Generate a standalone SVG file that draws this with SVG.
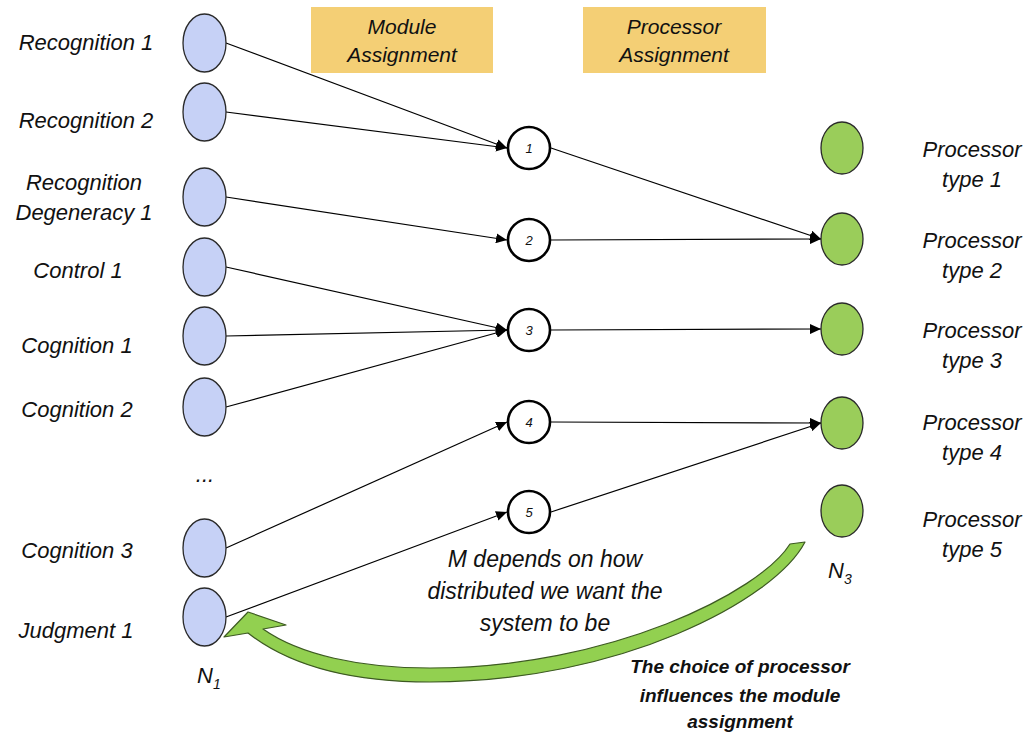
<svg xmlns="http://www.w3.org/2000/svg" width="1031" height="737" viewBox="0 0 1031 737">
<defs>
<style>
text{font-family:"Liberation Sans",Arial,sans-serif;font-style:italic;fill:#111}
.lbl{font-size:22px;text-anchor:middle}
.box{fill:#F4CF75}
.boxt{font-size:21px;text-anchor:middle}
.n1{fill:#C6D1F6;stroke:#2a2a2a;stroke-width:1.3}
.n2{fill:#ffffff;stroke:#000;stroke-width:2.6}
.n3{fill:#9ACD5A;stroke:#2a2a2a;stroke-width:1.3}
.num{font-size:13px;text-anchor:middle}
.mid{font-size:23px;text-anchor:middle}
.bold{font-size:19px;font-weight:bold;text-anchor:middle}
.conn line{stroke:#000;stroke-width:1.2;marker-end:url(#ah)}
</style>
<marker id="ah" markerUnits="userSpaceOnUse" markerWidth="12" markerHeight="10" refX="11" refY="5" orient="auto">
<path d="M0,0 L11,5 L0,10 Z" fill="#000"/>
</marker>
</defs>
<rect width="1031" height="737" fill="#fff"/>

<g id="header-module">
<rect class="box" x="311" y="7" width="182" height="66"/>
<text class="boxt" x="402" y="34">Module</text>
<text class="boxt" x="402" y="62">Assignment</text>
</g>
<g id="header-processor">
<rect class="box" x="583" y="7" width="183" height="66"/>
<text class="boxt" x="674" y="34">Processor</text>
<text class="boxt" x="674" y="62">Assignment</text>
</g>

<g class="conn" id="connectors">
<line x1="226" y1="43" x2="507" y2="148"/>
<line x1="226" y1="112" x2="507" y2="148"/>
<line x1="226" y1="197" x2="507" y2="240"/>
<line x1="226" y1="267" x2="507" y2="330"/>
<line x1="226" y1="336" x2="507" y2="330"/>
<line x1="226" y1="407" x2="507" y2="330"/>
<line x1="226" y1="548" x2="507" y2="422"/>
<line x1="226" y1="617" x2="507" y2="512"/>
<line x1="551" y1="148" x2="821" y2="239"/>
<line x1="551" y1="240" x2="821" y2="239"/>
<line x1="551" y1="330" x2="821" y2="329"/>
<line x1="551" y1="422" x2="821" y2="423"/>
<line x1="551" y1="512" x2="821" y2="423"/>
</g>

<g id="rec1"><ellipse class="n1" cx="204.5" cy="43" rx="21.5" ry="29"/><text class="lbl" x="86" y="50">Recognition 1</text></g>
<g id="rec2"><ellipse class="n1" cx="204.5" cy="112" rx="21.5" ry="29"/><text class="lbl" x="86" y="128">Recognition 2</text></g>
<g id="recdeg1"><ellipse class="n1" cx="204.5" cy="197" rx="21.5" ry="29"/><text class="lbl" x="84" y="190">Recognition</text><text class="lbl" x="84" y="220">Degeneracy 1</text></g>
<g id="ctrl1"><ellipse class="n1" cx="204.5" cy="267" rx="21.5" ry="29"/><text class="lbl" x="78" y="278">Control 1</text></g>
<g id="cog1"><ellipse class="n1" cx="204.5" cy="336" rx="21.5" ry="29"/><text class="lbl" x="77" y="353">Cognition 1</text></g>
<g id="cog2"><ellipse class="n1" cx="204.5" cy="407" rx="21.5" ry="29"/><text class="lbl" x="77" y="417">Cognition 2</text></g>
<g id="ellipsis"><text class="lbl" x="205" y="482">...</text></g>
<g id="cog3"><ellipse class="n1" cx="204.5" cy="548" rx="21.5" ry="29"/><text class="lbl" x="77" y="558">Cognition 3</text></g>
<g id="judg1"><ellipse class="n1" cx="204.5" cy="617" rx="21.5" ry="29"/><text class="lbl" x="76" y="638">Judgment 1</text></g>
<g id="N1"><text x="197" y="683" font-size="22">N<tspan font-size="14" dy="6">1</tspan></text></g>

<g id="m1"><circle class="n2" cx="529" cy="148" r="21"/><text class="num" x="529" y="153">1</text></g>
<g id="m2"><circle class="n2" cx="529" cy="240" r="21"/><text class="num" x="529" y="245">2</text></g>
<g id="m3"><circle class="n2" cx="529" cy="330" r="21"/><text class="num" x="529" y="335">3</text></g>
<g id="m4"><circle class="n2" cx="529" cy="422" r="21"/><text class="num" x="529" y="427">4</text></g>
<g id="m5"><circle class="n2" cx="529" cy="512" r="21"/><text class="num" x="529" y="517">5</text></g>

<g id="p1"><ellipse class="n3" cx="842" cy="148" rx="21" ry="26"/><text class="lbl" x="972" y="157">Processor</text><text class="lbl" x="972" y="187">type 1</text></g>
<g id="p2"><ellipse class="n3" cx="842" cy="239" rx="21" ry="26"/><text class="lbl" x="972" y="248">Processor</text><text class="lbl" x="972" y="278">type 2</text></g>
<g id="p3"><ellipse class="n3" cx="842" cy="329" rx="21" ry="26"/><text class="lbl" x="972" y="338">Processor</text><text class="lbl" x="972" y="368">type 3</text></g>
<g id="p4"><ellipse class="n3" cx="842" cy="423" rx="21" ry="26"/><text class="lbl" x="972" y="430">Processor</text><text class="lbl" x="972" y="460">type 4</text></g>
<g id="p5"><ellipse class="n3" cx="842" cy="511" rx="21" ry="26"/><text class="lbl" x="972" y="527">Processor</text><text class="lbl" x="972" y="557">type 5</text></g>
<g id="N3"><text x="828" y="578" font-size="22">N<tspan font-size="14" dy="6">3</tspan></text></g>

<g id="note-m">
<text class="mid" x="545" y="567">M depends on how</text>
<text class="mid" x="545" y="599">distributed we want the</text>
<text class="mid" x="545" y="631">system to be</text>
</g>

<g id="feedback-arrow">
<path d="M 224,637 L 248,612 L 286,625 L 263,629 C 300,655 360,668 430,668 C 610,668 760,592 790,544 L 805,542 C 775,600 620,682 430,682 C 340,682 285,662 248,633 Z" fill="#92D050" stroke="#3d5a22" stroke-width="1.2" stroke-linejoin="round"/>
</g>
<g id="note-choice">
<text class="bold" x="740" y="673">The choice of processor</text>
<text class="bold" x="740" y="702">influences the module</text>
<text class="bold" x="740" y="728">assignment</text>
</g>
</svg>
